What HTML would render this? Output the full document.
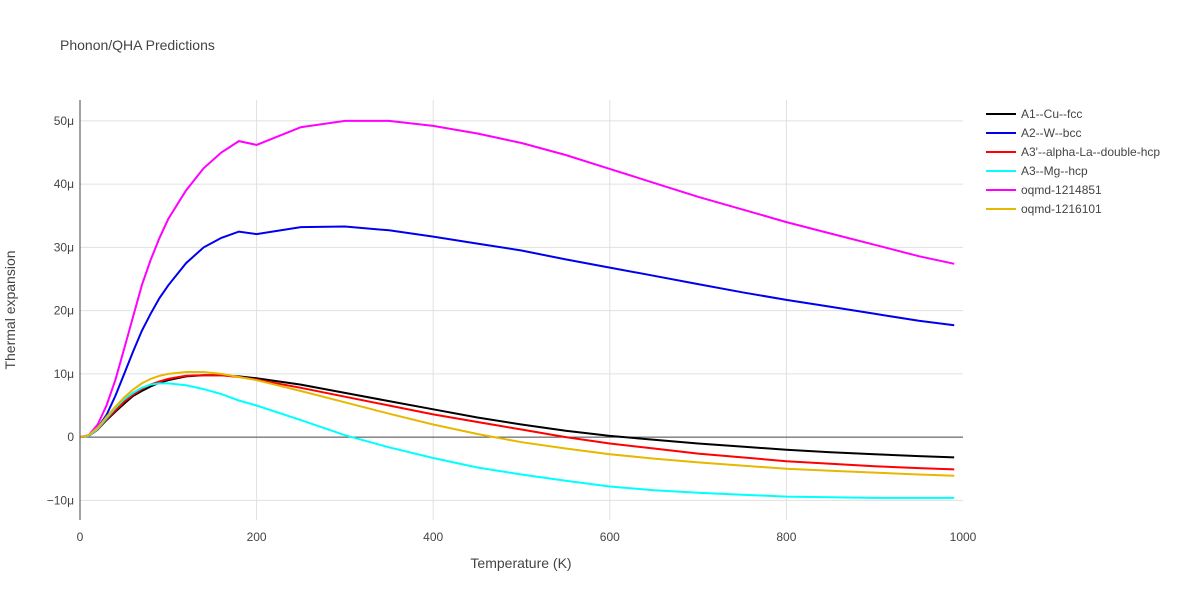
<!DOCTYPE html>
<html><head><meta charset="utf-8"><style>
body{margin:0;background:#fff;font-family:"Liberation Sans",Arial,sans-serif;}
svg text{font-family:"Liberation Sans",Arial,sans-serif;fill:#444;}
</style></head><body>
<svg id="chart" width="1200" height="600" xmlns="http://www.w3.org/2000/svg">
<text x="60" y="50" font-size="14">Phonon/QHA Predictions</text>
<g id="grid"></g><g id="series"></g><g id="axes"></g><g id="legend"></g>
<text x="521" y="568" font-size="14" text-anchor="middle">Temperature (K)</text>
<text transform="translate(15,310) rotate(-90)" font-size="14" text-anchor="middle">Thermal expansion</text>
</svg>
<script>
const temps=[0,10,20,30,40,50,60,70,80,90,100,120,140,160,180,200,250,300,350,400,450,500,550,600,650,700,750,800,850,900,950,990];
const seriesNames=["A1--Cu--fcc","A2--W--bcc","A3'--alpha-La--double-hcp","A3--Mg--hcp","oqmd-1214851","oqmd-1216101"];
const seriesColors=["#000000","#0000ee","#ff0000","#00ffff","#ff00ff","#e6b800"];
const cuVals=[0,0.2,1.2,2.7,4,5.3,6.5,7.3,8,8.6,9,9.6,9.8,9.8,9.6,9.3,8.3,7,5.7,4.4,3.1,2,1,0.2,-0.4,-1,-1.5,-2,-2.4,-2.7,-3,-3.2];
const wVals=[0,0.3,1.5,3.5,6.5,10,13.5,16.8,19.5,22,24,27.5,30,31.5,32.5,32.1,33.2,33.3,32.7,31.7,30.6,29.5,28.1,26.8,25.5,24.2,22.9,21.7,20.6,19.5,18.4,17.7];
const laVals=[0,0.2,1.2,2.8,4.2,5.6,6.7,7.6,8.3,8.8,9.2,9.7,9.8,9.8,9.5,9.1,7.8,6.4,5,3.6,2.4,1.2,0,-1,-1.8,-2.6,-3.2,-3.8,-4.2,-4.6,-4.9,-5.1];
const mgVals=[0,0.2,1.3,3,4.6,6,7,7.8,8.3,8.5,8.5,8.2,7.6,6.8,5.8,5,2.7,0.3,-1.6,-3.3,-4.8,-5.9,-6.9,-7.8,-8.4,-8.8,-9.1,-9.4,-9.5,-9.6,-9.6,-9.6];
const oqmd1Vals=[0,0.3,2,5,9,14,19,24,28,31.5,34.5,39,42.5,45,46.8,46.2,49,50,50,49.2,48,46.5,44.6,42.4,40.2,38,36,34,32.2,30.4,28.6,27.4];
const oqmd2Vals=[0,0.3,1.5,3.2,4.8,6.3,7.5,8.5,9.2,9.7,10,10.3,10.3,10,9.5,9,7.3,5.5,3.7,2,0.5,-0.8,-1.8,-2.7,-3.4,-4,-4.5,-5,-5.3,-5.6,-5.9,-6.1];
const allVals=[cuVals,wVals,laVals,mgVals,oqmd1Vals,oqmd2Vals];
const xTicks=[0,200,400,600,800,1000];
const yTicks=[-10,0,10,20,30,40,50];
const yTickLabels=["−10μ","0","10μ","20μ","30μ","40μ","50μ"];
const L=80,R=963,T=100,B=520,xMin=0,xMax=1000,yMin=-13.1,yMax=53.3;
const X=v=>L+(v-xMin)/(xMax-xMin)*(R-L);
const Y=v=>B-(v-yMin)/(yMax-yMin)*(B-T);
const NS="http://www.w3.org/2000/svg";
function mk(tag,attrs,parent,txt){const e=document.createElementNS(NS,tag);for(const k in attrs)e.setAttribute(k,attrs[k]);if(txt!==undefined)e.textContent=txt;parent.appendChild(e);return e;}
const grid=document.getElementById('grid'),axes=document.getElementById('axes'),ser=document.getElementById('series'),leg=document.getElementById('legend');
xTicks.forEach(t=>{
 if(t>0&&t<1000){const g=mk('line',{x1:X(t),x2:X(t),y1:T,y2:B,stroke:'#e0e0e0'},grid);
 
 }
 const tx=mk('text',{x:X(t),y:B+21,'font-size':12,'text-anchor':'middle'},axes,String(t));
 
 
});
yTicks.forEach((t,i)=>{
 const g=mk('line',{x1:L,x2:R,y1:Y(t),y2:Y(t),stroke:t===0?'#444':'#e0e0e0','stroke-width':t===0?1:1},grid);
 
 
 const tx=mk('text',{x:L-6,y:Y(t)+4,'font-size':12,'text-anchor':'end'},axes,yTickLabels[i]);
 
 
});
const ax=mk('line',{x1:L,x2:L,y1:T,y2:B,stroke:'#444'},axes);


allVals.forEach((vals,s)=>{
 const d=vals.map((v,i)=>(i?'L':'M')+X(temps[i]).toFixed(1)+','+Y(v).toFixed(1)).join('');
 const p=mk('path',{d:d,fill:'none',stroke:seriesColors[s],'stroke-width':2},ser);
 
 
 const gy=114+s*19;
 const g=mk('g',{},leg);
 
 
 mk('line',{x1:986,x2:1016,y1:gy,y2:gy,stroke:seriesColors[s],'stroke-width':2},g);
 mk('text',{x:1021,y:gy+4,'font-size':12},g,seriesNames[s]);
});
</script>
</body></html>
